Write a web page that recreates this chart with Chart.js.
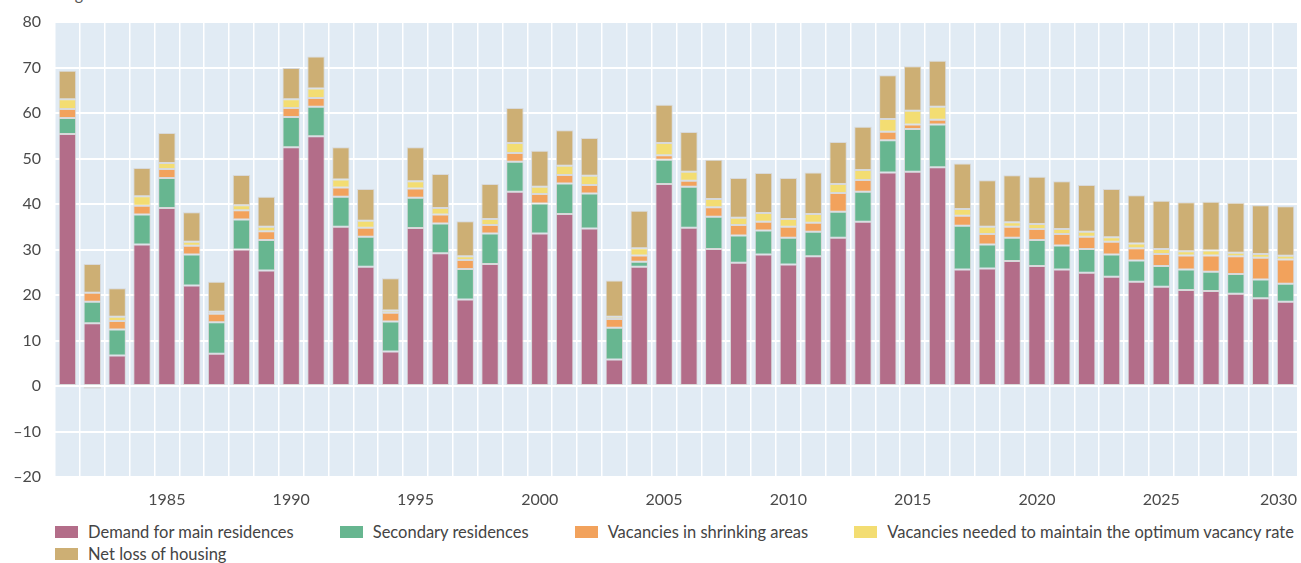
<!DOCTYPE html>
<html>
<head>
<meta charset="utf-8">
<script src="https://cdn.jsdelivr.net/npm/chart.js@4/dist/chart.umd.min.js"></script>
<style>
  html, body { margin: 0; padding: 0; background: #fff; }
  #wrap { position: relative; width: 1301px; height: 563px; overflow: hidden; font-family: Lato, "Open Sans", sans-serif; }
  #unit { position: absolute; left: 25px; top: -16px; font-size: 16px; color: #555; white-space: nowrap; }
  #cv { position: absolute; left: 0; top: 0; }
  #legend { position: absolute; left: 55px; top: 521px; width: 1270px; display: flex; flex-wrap: wrap; column-gap: 46px; row-gap: 0; font-size: 16.5px; color: #444; }
  .li { display: flex; align-items: center; height: 22px; white-space: nowrap; }
  .sw { width: 23px; height: 12px; margin-right: 10px; }
</style>
</head>
<body>
<div id="wrap">
  <div id="unit">Housing units in thousands</div>
  <canvas id="cv" width="1301" height="515"></canvas>
  <div id="legend"></div>
</div>
<script>
const years = [];
for (let y = 1981; y <= 2030; y++) years.push(String(y));

const seriesNames = [
  "Demand for main residences",
  "Secondary residences",
  "Vacancies in shrinking areas",
  "Vacancies needed to maintain the optimum vacancy rate",
  "Net loss of housing"
];

const mainResidences = [
  55.4, 13.8, 6.7, 31.1, 39.1, 22.1, 7.1, 30.0, 25.4, 52.5,
  54.9, 35.0, 26.2, 7.6, 34.7, 29.2, 19.0, 26.8, 42.7, 33.5,
  37.8, 34.6, 5.8, 26.2, 44.4, 34.8, 30.1, 27.1, 28.9, 26.7,
  28.5, 32.6, 36.1, 46.9, 47.1, 48.1, 25.6, 25.8, 27.5, 26.4,
  25.6, 24.9, 24.0, 22.9, 21.8, 21.1, 20.9, 20.3, 19.3, 18.5
];
const secondaryResidences = [
  3.5, 4.7, 5.7, 6.6, 6.6, 6.8, 6.9, 6.6, 6.7, 6.6,
  6.5, 6.6, 6.6, 6.6, 6.7, 6.5, 6.7, 6.7, 6.6, 6.6,
  6.7, 7.7, 7.0, 1.1, 5.3, 9.0, 7.1, 6.0, 5.3, 5.9,
  5.4, 5.7, 6.6, 7.1, 9.4, 9.4, 9.6, 5.3, 5.1, 5.7,
  5.3, 5.2, 4.9, 4.7, 4.6, 4.5, 4.2, 4.3, 4.1, 4.0
];
const vacanciesShrinking = [
  2.0, 2.0, 1.9, 1.9, 2.0, 1.9, 1.9, 2.0, 1.9, 2.0,
  1.9, 2.0, 2.0, 1.9, 2.0, 2.0, 2.0, 1.9, 1.9, 2.1,
  1.9, 1.9, 1.9, 1.4, 1.0, 1.3, 2.1, 2.3, 1.9, 2.4,
  2.0, 4.1, 2.6, 1.9, 1.0, 1.0, 2.2, 2.3, 2.4, 2.4,
  2.5, 2.7, 2.8, 2.7, 2.6, 3.1, 3.6, 3.9, 4.8, 5.3
];
const vacanciesOptimum = [
  2.1, -0.6, 0.9, 2.1, 1.3, 0.9, 0.4, 1.1, 1.0, 1.9,
  2.1, 1.8, 1.5, 0.5, 1.6, 1.4, 0.8, 1.3, 2.2, 1.6,
  2.0, 2.0, 0.5, 1.6, 2.7, 2.0, 1.8, 1.6, 1.9, 1.7,
  1.9, 2.0, 2.2, 2.8, 3.0, 2.9, 1.5, 1.6, 1.0, 1.1,
  1.1, 1.1, 1.0, 1.0, 1.1, 0.9, 1.1, 0.8, 0.8, 0.8
];
const netLoss = [
  6.3, 6.3, 6.3, 6.2, 6.6, 6.5, 6.6, 6.7, 6.6, 6.9,
  7.0, 7.1, 7.0, 7.1, 7.5, 7.5, 7.7, 7.7, 7.7, 7.9,
  7.8, 8.3, 8.0, 8.2, 8.4, 8.7, 8.6, 8.7, 8.8, 9.0,
  9.1, 9.2, 9.5, 9.6, 9.8, 10.1, 10.0, 10.2, 10.3, 10.4,
  10.5, 10.3, 10.6, 10.6, 10.6, 10.8, 10.7, 11.0, 10.7, 10.9
];

const colors = ["#B36D89", "#67B690", "#F2A25C", "#F3DD72", "#CDAF74"];
const seriesValues = [mainResidences, secondaryResidences, vacanciesShrinking, vacanciesOptimum, netLoss];

const datasets = seriesValues.map((vals, i) => ({
  label: seriesNames[i],
  data: vals,
  backgroundColor: colors[i],
  borderColor: "rgba(215,215,215,0.9)",
  borderWidth: 1,
  borderSkipped: false,
  barPercentage: 0.7,
  categoryPercentage: 1.0,
  stack: "s"
}));

const bgPlugin = {
  id: "bg",
  beforeDraw(chart) {
    const { ctx, chartArea: a } = chart;
    ctx.save();
    ctx.fillStyle = "#E1EBF4";
    ctx.fillRect(a.left, a.top, a.right - a.left, a.bottom - a.top);
    ctx.restore();
  }
};

// keep the last x label ("2030") inside the canvas, as in the reference
const lastLabelPlugin = {
  id: "lastLabel",
  afterLayout(chart) {
    const xs = chart.scales.x;
    if (xs._patched) return;
    xs._patched = true;
    const orig = xs._computeLabelItems.bind(xs);
    xs._computeLabelItems = function (ca) {
      const items = orig(ca);
      for (let k = items.length - 1; k >= 0; k--) {
        const it = items[k];
        if (it.label && String(it.label).length) {
          const w = 36;
          const maxX = chart.chartArea.right - 1;
          const cx = it.options.translation[0];
          if (cx + w / 2 > maxX) {
            it.options.translation = [maxX, it.options.translation[1]];
            it.options.textAlign = "right";
          }
          break;
        }
      }
      return items;
    };
  }
};

const font = { family: "Lato, 'Open Sans', sans-serif", size: 16 };

new Chart(document.getElementById("cv"), {
  type: "bar",
  data: { labels: years, datasets },
  plugins: [bgPlugin, lastLabelPlugin],
  options: {
    responsive: false,
    animation: false,
    layout: { padding: { left: 0, right: 3, top: 22, bottom: 0 } },
    plugins: { legend: { display: false }, tooltip: { enabled: false } },
    scales: {
      x: {
        stacked: true,
        grid: { color: "#ffffff", lineWidth: 1.5, drawTicks: false, offset: true },
        border: { display: false },
        ticks: {
          autoSkip: false,
          maxRotation: 0,
          padding: 13,
          color: "#4a4a4a",
          font,
          callback(v, i) { const y = +years[i]; return y % 5 === 0 ? years[i] : ""; }
        },
        afterFit(s) { s.height = 38; s.paddingLeft = 0; s.paddingRight = 0; }
      },
      y: {
        stacked: true,
        min: -20,
        max: 80,
        grid: { color: "#ffffff", lineWidth: 2, drawTicks: false },
        border: { display: false },
        ticks: {
          stepSize: 10,
          padding: 14,
          color: "#4a4a4a",
          font,
          callback(v) { return v < 0 ? "\u2013" + Math.abs(v) : String(v); }
        },
        afterFit(s) { s.width = 55; s.paddingTop = 0; s.paddingBottom = 0; }
      }
    }
  }
});

const lg = document.getElementById("legend");
seriesNames.forEach((n, i) => {
  const d = document.createElement("div");
  d.className = "li";
  d.innerHTML = '<span class="sw" style="background:' + colors[i] + '"></span><span></span>';
  d.lastChild.textContent = n;
  lg.appendChild(d);
});
</script>
</body>
</html>
